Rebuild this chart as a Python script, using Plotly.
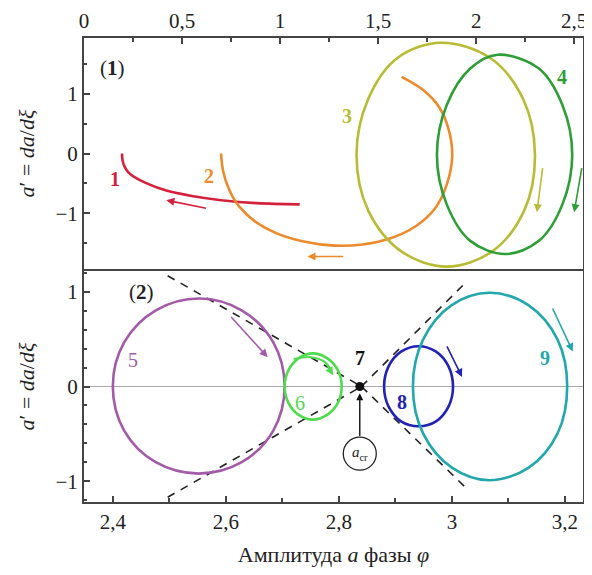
import plotly.graph_objects as go

# ---------------- data: top panel (1) ----------------
c1_a = [0.194, 0.197, 0.207, 0.225, 0.26, 0.32, 0.42, 0.55, 0.70, 0.88, 1.10]
c1_d = [0.0, -0.12, -0.22, -0.31, -0.40, -0.50, -0.62, -0.71, -0.78, -0.83, -0.85]

c2_a = [0.699, 0.71, 0.74, 0.79, 0.87, 0.98, 1.12, 1.28, 1.42, 1.56, 1.69, 1.79, 1.85, 1.878, 1.86, 1.81, 1.73, 1.62]
c2_d = [0.0, -0.30, -0.60, -0.88, -1.13, -1.33, -1.47, -1.54, -1.52, -1.42, -1.22, -0.92, -0.52, -0.05, 0.40, 0.78, 1.06, 1.28]

c3_a = [2.30, 2.239, 2.07, 1.82, 1.60, 1.45, 1.39, 1.45, 1.62, 1.85, 2.08, 2.245, 2.30]
c3_d = [-0.02, 0.915, 1.60, 1.85, 1.60, 0.915, -0.03, -0.955, -1.64, -1.89, -1.64, -0.955, -0.02]

c4_a = [2.49, 2.44, 2.32, 2.11, 1.97, 1.85, 1.80, 1.85, 1.97, 2.15, 2.32, 2.44, 2.49]
c4_d = [-0.02, 0.81, 1.42, 1.65, 1.42, 0.81, -0.02, -0.85, -1.46, -1.68, -1.46, -0.85, -0.02]

# ---------------- data: bottom panel (2) ----------------
c5_a = [2.704, 2.684, 2.628, 2.554, 2.476, 2.42, 2.40, 2.42, 2.476, 2.552, 2.628, 2.684, 2.704]
c5_d = [0.0, 0.465, 0.805, 0.93, 0.805, 0.465, 0.0, -0.465, -0.80, -0.92, -0.80, -0.465, 0.0]

c6_a = [2.805, 2.798, 2.779, 2.754, 2.729, 2.711, 2.704, 2.711, 2.729, 2.754, 2.779, 2.798, 2.805]
c6_d = [0.0, 0.175, 0.30, 0.35, 0.30, 0.175, 0.0, -0.175, -0.30, -0.35, -0.30, -0.175, 0.0]
c6in_a = [2.72, 2.75, 2.775, 2.788]
c6in_d = [0.29, 0.31, 0.26, 0.15]

c7_a = [2.837]
c7_d = [0.0]

c8_a = [3.002, 2.994, 2.972, 2.941, 2.91, 2.888, 2.88, 2.888, 2.91, 2.941, 2.972, 2.994, 3.002]
c8_d = [0.0, 0.213, 0.368, 0.425, 0.368, 0.213, 0.0, -0.213, -0.368, -0.42, -0.368, -0.213, 0.0]

c9_a = [3.204, 3.187, 3.136, 3.067, 2.999, 2.949, 2.931, 2.949, 3.0, 3.066, 3.136, 3.187, 3.204]
c9_d = [0.0, 0.495, 0.857, 0.99, 0.857, 0.495, 0.0, -0.495, -0.857, -0.99, -0.857, -0.495, 0.0]

# separatrix-like dashed lines (a, a')
sep_ul = ([2.497, 2.84], [1.17, 0.0])
sep_ll = ([2.497, 2.84], [-1.17, 0.0])
sep_ur = ([2.84, 3.023], [0.0, 1.09])
sep_lr = ([2.84, 3.030], [0.0, -1.10])

# tick labels
top_xvals = [0, 0.5, 1, 1.5, 2, 2.5]
top_xtext = ["0", "0,5", "1", "1,5", "2", "2,5"]
bot_xvals = [2.4, 2.6, 2.8, 3.0, 3.2]
bot_xtext = ["2,4", "2,6", "2,8", "3", "3,2"]
yvals = [-1, 0, 1]
ytext = ["−1", "0", "1"]

# colours
COL = {
    1: "#d4223c", 2: "#ec8a2c", 3: "#b8bc34", 4: "#2e9e36",
    5: "#a35aa8", 6: "#4edc4e", 7: "#111111", 8: "#2222b4", 9: "#22a8ac",
}

SERIF = "Liberation Serif"
fig = go.Figure()

def curve(a, d, col, xa, ya, width=2.6, dash=None, smooth=1.0):
    fig.add_trace(go.Scatter(
        x=a, y=d, mode="lines", xaxis=xa, yaxis=ya,
        line=dict(color=col, width=width, shape="spline", smoothing=smooth,
                  dash=dash),
        hoverinfo="skip", showlegend=False))

curve(c1_a, c1_d, COL[1], "x", "y")
curve(c2_a, c2_d, COL[2], "x", "y")
curve(c3_a, c3_d, COL[3], "x", "y")
curve(c4_a, c4_d, COL[4], "x", "y")

for (sx, sy) in (sep_ul, sep_ll, sep_ur, sep_lr):
    fig.add_trace(go.Scatter(x=sx, y=sy, mode="lines", xaxis="x2", yaxis="y2",
                             line=dict(color="#222", width=1.6, dash="8px,7px"),
                             hoverinfo="skip", showlegend=False))

curve(c5_a, c5_d, COL[5], "x2", "y2")
curve(c6_a, c6_d, COL[6], "x2", "y2")
curve(c6in_a, c6in_d, COL[6], "x2", "y2", width=2.0)
curve(c8_a, c8_d, COL[8], "x2", "y2")
curve(c9_a, c9_d, COL[9], "x2", "y2")

fig.add_trace(go.Scatter(x=c7_a, y=c7_d, mode="markers", xaxis="x2", yaxis="y2",
                         marker=dict(color=COL[7], size=9),
                         hoverinfo="skip", showlegend=False))

# a_cr circle
acr_pos = (2.837, -0.71)
fig.add_trace(go.Scatter(x=[acr_pos[0]], y=[acr_pos[1]], mode="markers+text",
                         xaxis="x2", yaxis="y2",
                         marker=dict(symbol="circle-open", size=33,
                                     line=dict(color="#222", width=1.3), color="#222"),
                         text=["<i>a</i><sub>cr</sub>"], textposition="middle center",
                         textfont=dict(family=SERIF, size=15, color="#222"),
                         hoverinfo="skip", showlegend=False))

# ---------------- annotations ----------------
ann = []

def arrow(x0, y0, x1, y1, col, xr, yr, head=2, size=1.0, w=1.6):
    ann.append(dict(x=x1, y=y1, ax=x0, ay=y0, xref=xr, yref=yr, axref=xr, ayref=yr,
                    showarrow=True, arrowhead=head, arrowsize=size, arrowwidth=w,
                    arrowcolor=col, text=""))

def label(x, y, txt, col, xr, yr, size=20, bold=True):
    ann.append(dict(x=x, y=y, xref=xr, yref=yr, text=(f"<b>{txt}</b>" if bold else txt),
                    showarrow=False, font=dict(family=SERIF, size=size, color=col)))

# top arrows
arrow(0.63, -0.92, 0.42, -0.78, COL[1], "x", "y")
arrow(1.33, -1.72, 1.14, -1.72, COL[2], "x", "y")
arrow(2.34, -0.22, 2.31, -0.98, COL[3], "x", "y")
arrow(2.54, -0.22, 2.50, -0.98, COL[4], "x", "y")
# bottom arrows
arrow(2.607, 0.75, 2.674, 0.31, COL[5], "x2", "y2")
arrow(2.775, 0.26, 2.790, 0.12, COL[6], "x2", "y2")
arrow(2.99, 0.44, 3.018, 0.10, COL[8], "x2", "y2")
arrow(3.177, 0.84, 3.214, 0.37, COL[9], "x2", "y2")
arrow(2.837, -0.54, 2.837, -0.07, "#111", "x2", "y2", w=1.4)

# labels
label(0.16, -0.43, "1", COL[1], "x", "y")
label(0.64, -0.37, "2", COL[2], "x", "y")
label(1.34, 0.62, "3", COL[3], "x", "y")
label(2.44, 1.28, "4", COL[4], "x", "y")
ann.append(dict(x=0.145, y=1.43, xref="x", yref="y", showarrow=False,
                text="(<b>1</b>)", font=dict(family=SERIF, size=21, color="#222")))
label(2.435, 0.28, "5", COL[5], "x2", "y2", bold=False)
label(2.731, -0.17, "6", COL[6], "x2", "y2", bold=False)
label(2.837, 0.30, "7", COL[7], "x2", "y2")
label(2.911, -0.16, "8", COL[8], "x2", "y2")
label(3.165, 0.30, "9", COL[9], "x2", "y2")
ann.append(dict(x=2.45, y=1.0, xref="x2", yref="y2", showarrow=False,
                text="(<b>2</b>)", font=dict(family=SERIF, size=21, color="#222")))

AX = dict(showline=True, mirror=True, linecolor="#444", linewidth=2,
          ticks="inside", ticklen=6, tickwidth=1.5, tickcolor="#444",
          showgrid=False, zeroline=False, automargin=False,
          ticklabeloverflow="allow",
          tickfont=dict(family=SERIF, size=21, color="#222"))

TFONT = dict(family=SERIF, size=22, color="#222")
ytitle = "<i>a</i>′ = <i>da</i>/<i>dξ</i>"
PH = 464.0  # plot-area height in px, used only to align the shared border

fig.update_layout(
    width=576, height=559,
    margin=dict(l=76, r=1, t=30, b=65),
    plot_bgcolor="white", paper_bgcolor="white",
    annotations=ann,
    xaxis=dict(**AX, anchor="y", side="top", domain=[0, 1], range=[0, 2.545],
               tickvals=top_xvals, ticktext=top_xtext,
               minor=dict(ticks="inside", ticklen=4, dtick=0.25, tick0=0, tickcolor="#444")),
    yaxis=dict(**AX, anchor="x", domain=[0.5 + 1 / PH, 1], range=[-1.93, 1.93],
               tickvals=yvals, ticktext=ytext,
               minor=dict(ticks="inside", ticklen=3, dtick=0.5, tick0=0, tickcolor="#444"),
               title=dict(text=ytitle, font=TFONT)),
    xaxis2=dict(**AX, anchor="y2", side="bottom", domain=[0, 1], range=[2.349, 3.232],
                tickvals=bot_xvals, ticktext=bot_xtext,
                minor=dict(ticks="inside", ticklen=4, dtick=0.1, tick0=0, tickcolor="#444"),
                title=dict(text="Амплитуда <i>a</i> фазы <i>φ</i>", font=TFONT)),
    yaxis2=dict(**{**AX, "zeroline": True}, zerolinecolor="#aaa", zerolinewidth=1,
                anchor="x2", domain=[0, 0.5 - 1 / PH], range=[-1.22, 1.22],
                tickvals=yvals, ticktext=ytext,
                minor=dict(ticks="inside", ticklen=3, dtick=0.2, tick0=0, tickcolor="#444"),
                title=dict(text=ytitle, font=TFONT)),
)

fig.write_html("out.html")
